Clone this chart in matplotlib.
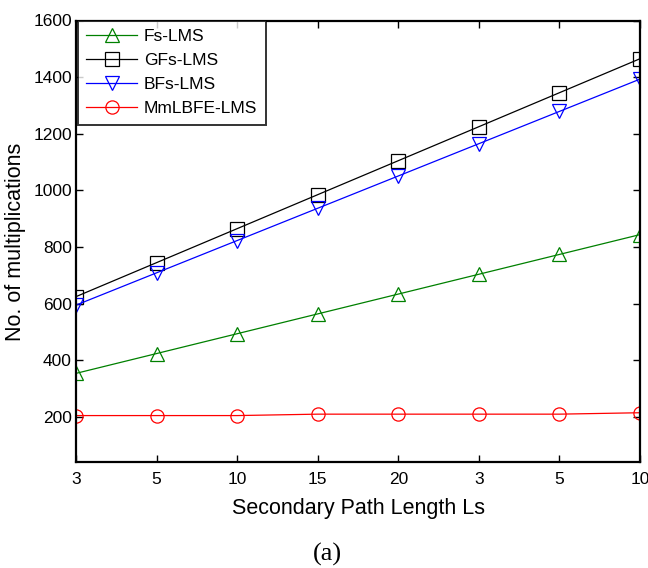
import matplotlib
matplotlib.use("Agg")
import matplotlib.pyplot as plt

# multiplications per iteration vs secondary path length
ls_labels = ['3', '5', '10', '15', '20', '3', '5', '10']
fs_lms = [354, 424, 494, 564, 634, 704, 774, 844]
gfs_lms = [625, 745, 865, 985, 1105, 1225, 1345, 1465]
bfs_lms = [595, 709, 823, 937, 1051, 1165, 1279, 1393]
mmlbfe_lms = [205, 205, 205, 210, 210, 210, 210, 215]
yticks = [200, 400, 600, 800, 1000, 1200, 1400, 1600]

plt.rcParams['font.family'] = ['Liberation Sans', 'DejaVu Sans']

fig = plt.figure(figsize=(6.48, 5.68), dpi=100)
ax = fig.add_axes([76/648, 1 - 462.3/568, (640 - 76)/648, (462.3 - 20.5)/568])

x = list(range(len(ls_labels)))
mk = dict(markerfacecolor='none', markersize=9.5, linewidth=0.9, markeredgewidth=0.9)
ax.plot(x, fs_lms, '-^', color='#008000', label='Fs-LMS', **mk)
ax.plot(x, gfs_lms, '-s', color='black', label='GFs-LMS', **mk)
ax.plot(x, bfs_lms, '-v', color='#0000ff', label='BFs-LMS', **mk)
ax.plot(x, mmlbfe_lms, '-o', color='#ff0000', label='MmLBFE-LMS', **mk)

ax.set_xlim(0, len(ls_labels) - 1)
ax.set_ylim(40, 1600)
ax.set_xticks(x)
ax.set_xticklabels(ls_labels)
ax.set_yticks(yticks)
ax.tick_params(direction='in', length=5, width=1, top=True, right=True,
               labelsize=12.5)
ax.tick_params(axis='x', pad=7)
ax.tick_params(axis='y', pad=3)
for s in ax.spines.values():
    s.set_linewidth(1.6)

ax.set_xlabel('Secondary Path Length Ls', fontsize=15.5, labelpad=8)
ax.set_ylabel('No. of multiplications', fontsize=15.5, labelpad=5)

leg = ax.legend(loc='upper left', bbox_to_anchor=(0.003, 1.0), borderaxespad=0,
                fontsize=12.5, frameon=True, fancybox=False, edgecolor='black',
                handlelength=2.9, labelspacing=0.5, borderpad=0.5,
                handletextpad=0.4)
leg.get_frame().set_linewidth(1.4)

fig.text(0.505, 0.024, '(a)', ha='center', va='center', fontsize=19,
         family=['Liberation Serif', 'DejaVu Serif'])

fig.savefig('out.png', dpi=100)
